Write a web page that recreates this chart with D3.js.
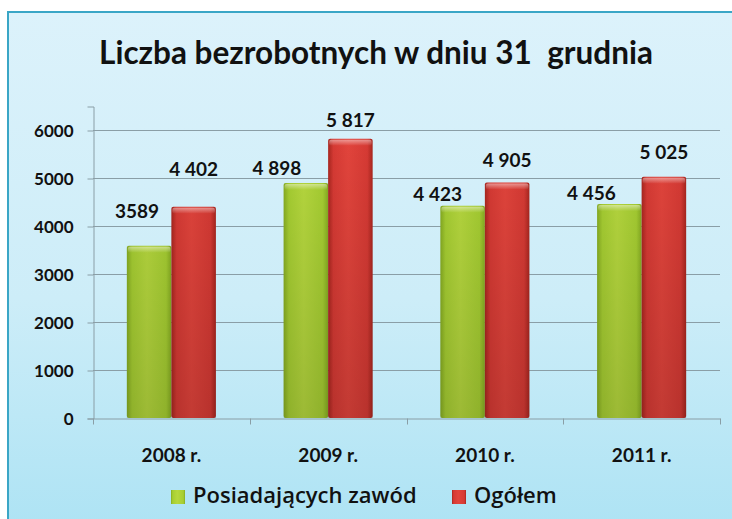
<!DOCTYPE html>
<html>
<head>
<meta charset="utf-8">
<script src="https://cdn.jsdelivr.net/npm/d3@7"></script>
<style>
  body { margin: 0; background: #fff; }
  svg text { font-family: "Lato", "Open Sans", sans-serif; font-weight: bold; fill: #111; }
</style>
</head>
<body>
<div id="chart"></div>
<script>
(function(){
    var width = 732,
        height = 519;

    // data
    var years = ["2008 r.", "2009 r.", "2010 r.", "2011 r."];
    var series = ["Posiadających zawód", "Ogółem"];
    var zawod = [3589, 4898, 4423, 4456];
    var ogolem = [4402, 5817, 4905, 5025];
    var zawodLabels = ["3589", "4 898", "4 423", "4 456"];
    var ogolemLabels = ["4 402", "5 817", "4 905", "5 025"];
    var yTicks = [0, 1000, 2000, 3000, 4000, 5000, 6000];

    // label nudges (the labels in the original were moved by hand)
    var zawodNudge = [[-12, -28], [-29, -8], [-25, -5], [-28, -4]];
    var ogolemNudge = [[0, -31], [0, -12], [0, -16], [0, -18]];

    var svg = d3.select("#chart")
      .append("svg")
      .attr("width", width)
      .attr("height", height)

    var defs = svg.append("defs")

    var bg = defs.append("linearGradient")
      .attr("id", "bg")
      .attr("x1", 0).attr("y1", 0).attr("x2", 0).attr("y2", 1)
    bg.append("stop").attr("offset", "0%").attr("stop-color", "#dcf2fb")
    bg.append("stop").attr("offset", "55%").attr("stop-color", "#cdedf8")
    bg.append("stop").attr("offset", "100%").attr("stop-color", "#ade3f4")

    function barGradient(id, edge, mid, light){
      var g = defs.append("linearGradient")
        .attr("id", id)
        .attr("x1", 0).attr("y1", 0).attr("x2", 1).attr("y2", 0)
      g.append("stop").attr("offset", "0%").attr("stop-color", edge)
      g.append("stop").attr("offset", "12%").attr("stop-color", mid)
      g.append("stop").attr("offset", "45%").attr("stop-color", light)
      g.append("stop").attr("offset", "88%").attr("stop-color", mid)
      g.append("stop").attr("offset", "100%").attr("stop-color", edge)
    }
    barGradient("gGreen", "#86ac22", "#a6ce32", "#b6d83e")
    barGradient("gRed", "#a8261f", "#d63a34", "#e2443c")

    // darker toward the bottom of the plot
    var shade = defs.append("linearGradient")
      .attr("id", "shade")
      .attr("gradientUnits", "userSpaceOnUse")
      .attr("x1", 0).attr("y1", 130).attr("x2", 0).attr("y2", 418)
    shade.append("stop").attr("offset", "0%").attr("stop-color", "#000").attr("stop-opacity", 0)
    shade.append("stop").attr("offset", "100%").attr("stop-color", "#000").attr("stop-opacity", 0.14)

    var hi = defs.append("linearGradient")
      .attr("id", "hi")
      .attr("x1", 0).attr("y1", 0).attr("x2", 0).attr("y2", 1)
    hi.append("stop").attr("offset", "0%").attr("stop-color", "#fff").attr("stop-opacity", 0.45)
    hi.append("stop").attr("offset", "100%").attr("stop-color", "#fff").attr("stop-opacity", 0)

    // frame
    svg.append("rect")
      .attr("x", 8).attr("y", 12)
      .attr("width", 740).attr("height", 520)
      .attr("fill", "url(#bg)")
      .attr("stroke", "#3aa6c6")
      .attr("stroke-width", 2)

    var margin = {top: 106, right: 12, bottom: 101, left: 93}

    var x0 = d3.scaleBand()
      .domain(years)
      .range([margin.left, width - margin.right])

    var x1 = d3.scaleBand()
      .domain(series)
      .range([0, x0.bandwidth()])
      .paddingOuter(0.76)

    var y = d3.scaleLinear()
      .domain([0, 6500])
      .range([height - margin.bottom, margin.top])

    // gridlines
    svg.append("g")
      .selectAll("line")
      .data(yTicks.slice(1))
      .enter().append("line")
      .attr("x1", margin.left)
      .attr("x2", width - margin.right)
      .attr("y1", function(d){ return Math.round(y(d)) + 0.5 })
      .attr("y2", function(d){ return Math.round(y(d)) + 0.5 })
      .attr("stroke", "#8a9ea6")
      .attr("stroke-width", 1)

    // y axis
    var yAxis = svg.append("g")
      .attr("transform", "translate(" + (margin.left + 0.5) + ",0.5)")
      .call(d3.axisLeft(y).tickValues(yTicks).tickSize(6).tickPadding(14).tickFormat(d3.format("d")))
    yAxis.selectAll("text").style("font-size", "17px").attr("dy", "0.35em")

    // x axis
    var xAxis = svg.append("g")
      .attr("transform", "translate(0," + (Math.round(y(0)) + 0.5) + ")")
      .call(d3.axisBottom(x0).tickSize(0).tickPadding(30))
    xAxis.selectAll("text").style("font-size", "19px")
    xAxis.selectAll("line.sep")
      .data(d3.range(years.length + 1))
      .enter().append("line")
      .attr("class", "sep")
      .attr("x1", function(i){ return Math.round(margin.left + i * x0.step()) + 0.5 })
      .attr("x2", function(i){ return Math.round(margin.left + i * x0.step()) + 0.5 })
      .attr("y1", 0).attr("y2", 6)
      .attr("stroke", "#8a9ea6")

    svg.selectAll(".domain").attr("stroke", "#8a9ea6")
    svg.selectAll(".tick line").attr("stroke", "#8a9ea6")

    // bars
    var rows = years.map(function(yr, i){
      return [
        {year: yr, key: series[0], value: zawod[i], label: zawodLabels[i], nudge: zawodNudge[i], fill: "url(#gGreen)"},
        {year: yr, key: series[1], value: ogolem[i], label: ogolemLabels[i], nudge: ogolemNudge[i], fill: "url(#gRed)"}
      ]
    })

    var groups = svg.append("g")
      .selectAll("g")
      .data(rows)
      .enter().append("g")
      .attr("transform", function(d){ return "translate(" + x0(d[0].year) + ",0)" })

    var bars = groups.selectAll("g.bar")
      .data(function(d){ return d })
      .enter().append("g")
      .attr("class", "bar")

    bars.append("rect")
      .attr("x", function(d){ return x1(d.key) })
      .attr("y", function(d){ return y(d.value) })
      .attr("width", x1.bandwidth())
      .attr("height", function(d){ return y(0) - y(d.value) })
      .attr("rx", 2)
      .attr("fill", function(d){ return d.fill })
    bars.append("rect")
      .attr("x", function(d){ return x1(d.key) })
      .attr("y", function(d){ return y(d.value) })
      .attr("width", x1.bandwidth())
      .attr("height", function(d){ return y(0) - y(d.value) })
      .attr("fill", "url(#shade)")
    bars.append("rect")
      .attr("x", function(d){ return x1(d.key) + 1 })
      .attr("y", function(d){ return y(d.value) + 1 })
      .attr("width", x1.bandwidth() - 2)
      .attr("height", 6)
      .attr("rx", 2)
      .attr("fill", "url(#hi)")

    bars.append("text")
      .attr("x", function(d){ return x1(d.key) + x1.bandwidth() / 2 + d.nudge[0] })
      .attr("y", function(d){ return y(d.value) + d.nudge[1] })
      .attr("text-anchor", "middle")
      .style("font-size", "19px")
      .text(function(d){ return d.label })

    // title
    svg.append("text")
      .attr("x", 376)
      .attr("y", 64)
      .attr("text-anchor", "middle")
      .style("font-size", "31.5px")
      .text("Liczba bezrobotnych w dniu 31\u00a0 grudnia")

    // legend
    var legendX = [171, 452]
    var legendFill = ["url(#gGreen)", "url(#gRed)"]
    var legend = svg.append("g")
      .selectAll("g")
      .data(series)
      .enter().append("g")
      .attr("transform", function(d, i){ return "translate(" + legendX[i] + ",490)" })
    legend.append("rect")
      .attr("width", 14).attr("height", 14)
      .attr("fill", function(d, i){ return legendFill[i] })
    legend.append("text")
      .attr("x", 22).attr("y", 13)
      .style("font-family", "'Open Sans', sans-serif")
      .style("font-size", "22px")
      .style("font-weight", "600")
      .text(function(d){ return d })

})();
</script>
</body>
</html>
